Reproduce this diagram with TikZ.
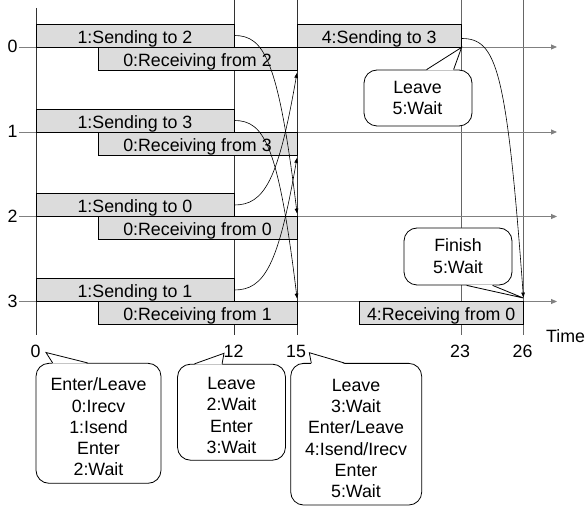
\documentclass[tikz,border=0pt]{standalone}
\usepackage{fontspec}
\setmainfont{Liberation Sans}
\usetikzlibrary{arrows.meta,calc}
\definecolor{barfill}{HTML}{DCDCDC}
\definecolor{axisgray}{HTML}{808080}
\definecolor{tickdark}{HTML}{333333}
\definecolor{ticklight}{HTML}{666666}
\begin{document}
\begin{tikzpicture}[x=1pt,y=-1pt,
  txt/.style={font=\fontsize{17.8}{21.3}\selectfont, inner sep=0pt},
  bar/.style={txt, draw=black, fill=barfill, line width=0.8pt,
    minimum height=23pt, text height=15.5pt, text depth=0pt},
  sendbar/.style={bar, minimum width=198pt},
  recvbar/.style={bar, minimum width=199pt},
  phasebar/.style={bar, minimum width=164pt},
  procline/.style={draw=axisgray, line width=0.8pt, -{Triangle[length=6pt,width=5pt]}},
  timeline/.style={line width=0.8pt},
  msg/.style={line width=0.6pt, -{Triangle[length=5pt,width=3.5pt]}, shorten >=2.5pt},
  bubble/.style={draw=black, fill=white, line width=0.8pt, rounded corners=13pt, inner sep=0pt},
  bubbletext/.style={txt, align=center},
  pointer/.style={line width=0.8pt},
]
\useasboundingbox (0,0) rectangle (586,510);

% time marks (vertical lines)
\coordinate (t0a)  at (36,8);      \coordinate (t0b)  at (36,335);
\coordinate (t12a) at (234,0);     \coordinate (t12b) at (234,335);
\coordinate (t15a) at (297,0);     \coordinate (t15b) at (297,335);
\coordinate (t23a) at (461.3,0);   \coordinate (t23b) at (461.3,335);
\coordinate (t26a) at (523.3,0);   \coordinate (t26b) at (523.3,335);
\draw[timeline, tickdark] (t0a) -- (t0b);
\draw[timeline, tickdark] (t12a) -- (t12b);
\draw[timeline, tickdark] (t15a) -- (t15b);
\draw[timeline, ticklight] (t23a) -- (t23b);
\draw[timeline, ticklight] (t26a) -- (t26b);

% process lines
\coordinate (p0a) at (19,47);    \coordinate (p0b) at (557,47);
\coordinate (p1a) at (19,132);   \coordinate (p1b) at (557,132);
\coordinate (p2a) at (19,216.5); \coordinate (p2b) at (557,216.5);
\coordinate (p3a) at (19,301.5); \coordinate (p3b) at (557,301.5);
\draw[procline] (p0a) -- (p0b);
\draw[procline] (p1a) -- (p1b);
\draw[procline] (p2a) -- (p2b);
\draw[procline] (p3a) -- (p3b);

% process labels
\node[txt] (lp0) at (12.5,46) {0};
\node[txt] (lp1) at (12.5,131) {1};
\node[txt] (lp2) at (12.5,216) {2};
\node[txt] (lp3) at (12.5,301.5) {3};

% activity bars
\node[sendbar] (s0) at (135,35.5) {1:Sending to 2};
\node[recvbar] (r0) at (197.5,58.5) {0:Receiving from 2};
\node[sendbar] (s1) at (135,120.5) {1:Sending to 3};
\node[recvbar] (r1) at (197.5,143.5) {0:Receiving from 3};
\node[sendbar] (s2) at (135,205) {1:Sending to 0};
\node[recvbar] (r2) at (197.5,228) {0:Receiving from 0};
\node[sendbar] (s3) at (135,290) {1:Sending to 1};
\node[recvbar] (r3) at (197.5,313) {0:Receiving from 1};
\node[phasebar] (s4) at (379.2,35.5) {4:Sending to 3};
\node[phasebar] (r4) at (441.2,313) {4:Receiving from 0};

% messages
\draw[msg] (s0.east) .. controls +(30,0) and ($(s0.east)+(44,25)$) .. (r2.north east);
\draw[msg] (s1.east) .. controls +(30,0) and ($(s1.east)+(44,25)$) .. (r3.north east);
\draw[msg] (s2.east) .. controls +(30,0) and ($(s2.east)+(44,-25)$) .. (r0.south east);
\draw[msg] (s3.east) .. controls +(30,0) and ($(s3.east)+(44,-25)$) .. (r1.south east);
\draw[msg] ($(s4.east)+(0,3)$) .. controls +(35,0) and ($(s4.east)+(45,33)$) .. ($(r4.north east)+(0,-1)$);

% time axis labels
\node[txt] (ax0)  at (35.5,351.5)  {0};
\node[txt] (ax12) at (233.5,351.5) {12};
\node[txt] (ax15) at (296,351.5)   {15};
\node[txt] (ax23) at (460,351.5)   {23};
\node[txt] (ax26) at (522.5,351.5) {26};
\node[txt, anchor=west] (axt) at (546,336) {Time};

% callout: leave after sending
\node[bubble, minimum width=108pt, minimum height=56pt] (bA) at (418,98) {};
\fill[white] ($(bA.north west)+(63,0.8)$) -- (s4.south east) -- ($(bA.north west)+(90,0.8)$) -- cycle;
\draw[pointer] ($(bA.north west)+(63,0)$) -- (s4.south east) -- ($(bA.north west)+(90,0)$);
\node[bubbletext] (tA) at (417.5,98) {Leave\\5:Wait};

% callout: finish
\coordinate (tipB) at (523.3,298);
\node[bubble, minimum width=108pt, minimum height=57pt] (bB) at (458,256.5) {};
\fill[white] ($(bB.south west)+(63,-0.8)$) -- (tipB) -- ($(bB.south west)+(89,-0.8)$) -- cycle;
\draw[pointer] ($(bB.south west)+(63,0)$) -- (tipB) -- ($(bB.south west)+(89,0)$);
\node[bubbletext] (tB) at (458,256) {Finish\\5:Wait};

% callout at time 0
\coordinate (tipC) at (46,352.5);
\node[bubble, minimum width=125pt, minimum height=120pt] (bC) at (98.5,423.3) {};
\fill[white] ($(bC.north west)+(17,0.8)$) -- (tipC) -- ($(bC.north west)+(52,0.8)$) -- cycle;
\draw[pointer] ($(bC.north west)+(17,0)$) -- (tipC) -- ($(bC.north west)+(52,0)$);
\node[bubbletext] (tC) at (98.5,427) {Enter/Leave\\0:Irecv\\1:Isend\\Enter\\2:Wait};

% callout at time 12
\coordinate (tipD) at (224,353.3);
\node[bubble, minimum width=108pt, minimum height=96pt] (bD) at (231.5,412.2) {};
\fill[white] ($(bD.north west)+(17.5,0.8)$) -- (tipD) -- ($(bD.north west)+(45,0.8)$) -- cycle;
\draw[pointer] ($(bD.north west)+(17.5,0)$) -- (tipD) -- ($(bD.north west)+(45,0)$);
\node[bubbletext] (tD) at (231.5,415.5) {Leave\\2:Wait\\Enter\\3:Wait};

% callout at time 15
\coordinate (tipE) at (309.3,352.7);
\node[bubble, minimum width=131pt, minimum height=141.7pt] (bE) at (356.2,434.2) {};
\fill[white] ($(bE.north west)+(21,0.8)$) -- (tipE) -- ($(bE.north west)+(54,0.8)$) -- cycle;
\draw[pointer] ($(bE.north west)+(21,0)$) -- (tipE) -- ($(bE.north west)+(54,0)$);
\node[bubbletext] (tE) at (356,438.5) {Leave\\3:Wait\\Enter/Leave\\4:Isend/Irecv\\Enter\\5:Wait};
\end{tikzpicture}
\end{document}
